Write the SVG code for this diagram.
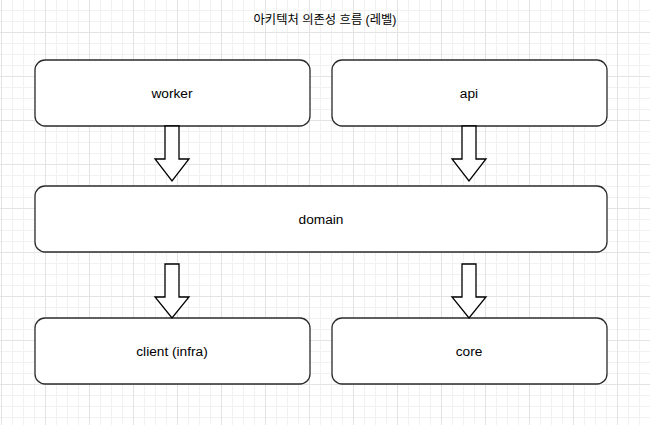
<svg xmlns="http://www.w3.org/2000/svg" width="650" height="425" viewBox="0 0 650 425">
  <defs>
    <pattern id="minor" patternUnits="userSpaceOnUse" x="1" y="-1" width="11" height="11">
      <path d="M 0 0.5 H 11 M 0.5 0 V 11" fill="none" stroke="#f1f1f1" stroke-width="1"/>
    </pattern>
    <pattern id="major" patternUnits="userSpaceOnUse" x="1" y="32" width="44" height="44">
      <path d="M 0 0.5 H 44 M 0.5 0 V 44" fill="none" stroke="#e3e3e3" stroke-width="1"/>
    </pattern>
    <style>
      .box { fill: #ffffff; stroke: #2b2b2b; stroke-width: 1.3; }
      .arrow { fill: #ffffff; stroke: #000000; stroke-width: 1.3; stroke-linejoin: miter; }
      .label { font-family: "Liberation Sans", "Noto Sans CJK KR", sans-serif; font-size: 13.7px; fill: #000000; text-anchor: middle; dominant-baseline: central; }
      .title { font-family: "Liberation Sans", "Noto Sans CJK KR", sans-serif; font-size: 12.3px; fill: #000000; text-anchor: middle; dominant-baseline: central; }
    </style>
  </defs>
  <rect x="0" y="0" width="650" height="425" fill="#ffffff"/>
  <rect x="0" y="0" width="650" height="425" fill="url(#minor)"/>
  <rect x="0" y="0" width="650" height="425" fill="url(#major)"/>

  <g id="title">
    <text class="title" x="325" y="20">아키텍처 의존성 흐름 (레벨)</text>
  </g>

  <g id="worker">
    <rect class="box" x="35" y="60" width="275" height="66" rx="10" ry="10"/>
    <text class="label" x="172" y="93">worker</text>
  </g>
  <g id="api">
    <rect class="box" x="332" y="60" width="275" height="66" rx="10" ry="10"/>
    <text class="label" x="469" y="93">api</text>
  </g>
  <g id="domain">
    <rect class="box" x="35" y="186" width="572" height="66" rx="10" ry="10"/>
    <text class="label" x="321" y="219">domain</text>
  </g>
  <g id="client">
    <rect class="box" x="35" y="318" width="275" height="66" rx="10" ry="10"/>
    <text class="label" x="172" y="351">client (infra)</text>
  </g>
  <g id="core">
    <rect class="box" x="332" y="318" width="275" height="66" rx="10" ry="10"/>
    <text class="label" x="469" y="351">core</text>
  </g>

  <g id="connectors">
    <path class="arrow" d="M 165 126 H 179 V 159 H 189 L 172 181 L 155 159 H 165 Z"/>
    <path class="arrow" d="M 462 126 H 476 V 159 H 486 L 469 181 L 452 159 H 462 Z"/>
    <path class="arrow" d="M 165 264 H 179 V 297 H 189 L 172 318 L 155 297 H 165 Z"/>
    <path class="arrow" d="M 462 264 H 476 V 297 H 486 L 469 318 L 452 297 H 462 Z"/>
  </g>
</svg>
